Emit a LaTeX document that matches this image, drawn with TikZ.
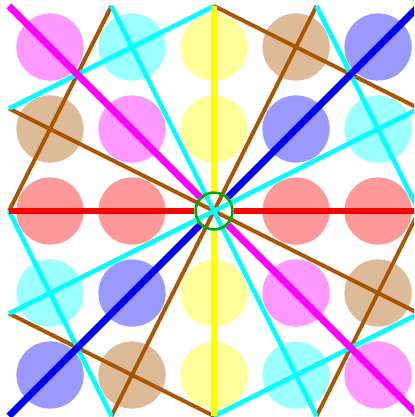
\documentclass[tikz,border=0pt]{standalone}
\usepackage{xcolor}
\usepackage{tikz}
\usetikzlibrary{calc}

\definecolor{lbrown}{RGB}{170,85,0}
\definecolor{lgreen}{RGB}{0,170,0}
\definecolor{lcyan}{RGB}{0,255,255}
\definecolor{lmagenta}{RGB}{255,0,255}
\definecolor{lyellow}{RGB}{255,255,0}
\definecolor{lblue}{RGB}{0,0,255}
\definecolor{lred}{RGB}{255,0,0}

\begin{document}
\begin{tikzpicture}[
    dot/.style={fill=#1!40},
    axisline/.style={draw=#1, line width=2.4pt},
    brownline/.style={draw=lbrown, line width=1.35pt},
    cyanline/.style={draw=lcyan, line width=1.6pt}
]

\useasboundingbox (-2.61,-2.512) rectangle (2.44,2.573);
\clip (-2.61,-2.512) rectangle (2.44,2.573);

\coordinate (o) at (0,0);

% Lattice points
\foreach \x/\y/\c in {-2/2/lmagenta, -1/2/lcyan, 0/2/lyellow, 1/2/lbrown, 2/2/lblue,
                      -2/1/lbrown, -1/1/lmagenta, 0/1/lyellow, 1/1/lblue, 2/1/lcyan,
                      -2/0/lred, -1/0/lred, 1/0/lred, 2/0/lred,
                      -2/-1/lcyan, -1/-1/lblue, 0/-1/lyellow, 1/-1/lmagenta, 2/-1/lbrown,
                      -2/-2/lblue, -1/-2/lbrown, 0/-2/lyellow, 1/-2/lcyan, 2/-2/lmagenta}
    \fill[dot=\c] (\x,\y) circle (0.41);

% Slopes 2 and -1/2, wrapped round the torus
\foreach \ax/\ay/\bx/\by in {0/0/1.25/2.5, 1.25/-2.5/2.5/0, -2.5/0/-1.25/2.5, -1.25/-2.5/0/0,
                            0/0/2.5/-1.25, -2.5/-1.25/0/-2.5, 0/2.5/2.5/1.25, -2.5/1.25/0/0}
    \draw[brownline] (\ax,\ay) -- (\bx,\by);

% Slopes 1/2 and -2
\foreach \ax/\ay/\bx/\by in {0/0/2.5/1.25, -2.5/1.25/0/2.5, 0/-2.5/2.5/-1.25, -2.5/-1.25/0/0,
                            0/0/1.25/-2.5, 1.25/2.5/2.5/0, -2.5/0/-1.25/-2.5, -1.25/2.5/0/0}
    \draw[cyanline] (\ax,\ay) -- (\bx,\by);

% Axes and diagonals
\foreach \ang/\len/\c in {0/2.5/lred, 180/2.5/lred, 90/2.5/lyellow, 270/2.5/lyellow,
                         135/3.536/lmagenta, 315/3.536/lmagenta, 45/3.536/lblue, 225/3.536/lblue}
    \draw[axisline=\c] ($(o)+(\ang:0.24)$) -- ($(o)+(\ang:\len)$);

% Origin
\draw[lgreen, line width=0.9pt] (o) circle (0.225);

\end{tikzpicture}
\end{document}
